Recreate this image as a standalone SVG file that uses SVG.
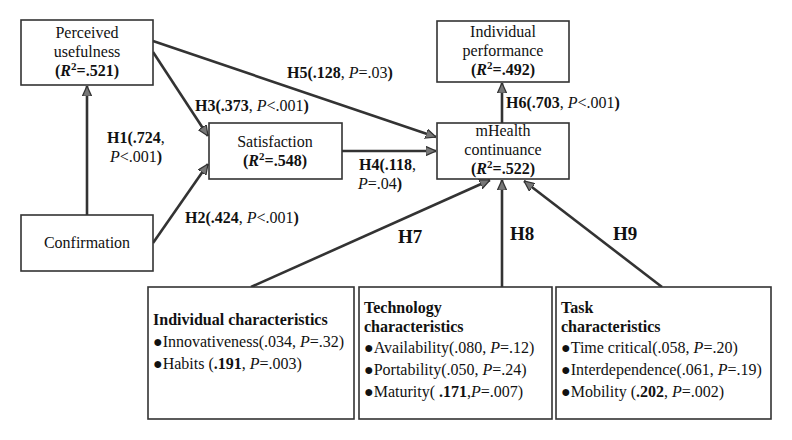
<svg xmlns="http://www.w3.org/2000/svg" width="792" height="440" viewBox="0 0 792 440">
<style>
text{font-family:"Liberation Serif","Times New Roman",serif;font-size:16px;fill:#111}
.c{text-anchor:middle}
.b{font-weight:bold}
.i{font-style:italic}
.bi{font-style:italic;font-weight:bold}
.box{fill:#fff;stroke:#333;stroke-width:1.6}
.ln{stroke:#333;stroke-width:2.6;fill:none;marker-end:url(#ah)}
.big{font-size:19px;font-weight:bold}
</style>
<defs>
<marker id="ah" viewBox="0 0 10 10" refX="10" refY="5" markerWidth="4" markerHeight="4" orient="auto" markerUnits="strokeWidth">
<path d="M0,0.5 L10,5 L0,9.5 Z" fill="#777" stroke="#333" stroke-width="1.2"/>
</marker>
</defs>
<rect width="792" height="440" fill="#fff"/>
<g id="connectors">
<line class="ln" x1="87" y1="215" x2="87" y2="86"/>
<line class="ln" x1="153" y1="52" x2="208" y2="136"/>
<line class="ln" x1="153" y1="41" x2="436" y2="137"/>
<line class="ln" x1="153" y1="243" x2="208" y2="164"/>
<line class="ln" x1="342" y1="151" x2="436" y2="151"/>
<line class="ln" x1="502" y1="123" x2="502" y2="83"/>
<line class="ln" x1="251" y1="287" x2="490" y2="180"/>
<line class="ln" x1="502" y1="287" x2="502" y2="180"/>
<line class="ln" x1="662" y1="287" x2="524" y2="181"/>
<text x="287" y="78"><tspan class="b">H5(.128</tspan>, <tspan class="i">P</tspan>=.03<tspan class="b">)</tspan></text>
<text x="195" y="111"><tspan class="b">H3(.373</tspan>, <tspan class="i">P</tspan>&lt;.001<tspan class="b">)</tspan></text>
<text x="107" y="143"><tspan class="b">H1(.724</tspan>,</text>
<text x="110" y="162"><tspan class="i">P</tspan>&lt;.001<tspan class="b">)</tspan></text>
<text x="185" y="223"><tspan class="b">H2(.424</tspan>, <tspan class="i">P</tspan>&lt;.001<tspan class="b">)</tspan></text>
<text x="359" y="170"><tspan class="b">H4(.118</tspan>,</text>
<text x="358" y="189"><tspan class="i">P</tspan>=.04<tspan class="b">)</tspan></text>
<text x="506" y="108"><tspan class="b">H6(.703</tspan>, <tspan class="i">P</tspan>&lt;.001<tspan class="b">)</tspan></text>
<text class="big" x="398" y="243">H7</text>
<text class="big" x="510" y="240">H8</text>
<text class="big" x="613" y="240">H9</text>
</g>
<g id="perceived-usefulness">
<rect class="box" x="21" y="20" width="132" height="65"/>
<text class="c" x="87" y="38">Perceived</text>
<text class="c" x="87" y="57">usefulness</text>
<text class="c b" x="87" y="76">(<tspan class="bi">R</tspan><tspan font-size="11" dy="-6">2</tspan><tspan dy="6">=.521)</tspan></text>
</g>
<g id="satisfaction">
<rect class="box" x="209" y="123" width="133" height="56"/>
<text class="c" x="275" y="147">Satisfaction</text>
<text class="c b" x="275" y="166">(<tspan class="bi">R</tspan><tspan font-size="11" dy="-6">2</tspan><tspan dy="6">=.548)</tspan></text>
</g>
<g id="confirmation">
<rect class="box" x="21" y="215" width="132" height="56"/>
<text class="c" x="87" y="248">Confirmation</text>
</g>
<g id="individual-performance">
<rect class="box" x="437" y="21" width="132" height="61"/>
<text class="c" x="503" y="37">Individual</text>
<text class="c" x="503" y="56">performance</text>
<text class="c b" x="503" y="75">(<tspan class="bi">R</tspan><tspan font-size="11" dy="-6">2</tspan><tspan dy="6">=.492)</tspan></text>
</g>
<g id="mhealth-continuance">
<rect class="box" x="437" y="123" width="132" height="56"/>
<text class="c" x="503" y="136">mHealth</text>
<text class="c" x="503" y="155">continuance</text>
<text class="c b" x="503" y="174">(<tspan class="bi">R</tspan><tspan font-size="11" dy="-6">2</tspan><tspan dy="6">=.522)</tspan></text>
</g>
<g id="individual-characteristics">
<rect class="box" x="148" y="287" width="206" height="132"/>
<text class="b" x="153" y="325">Individual characteristics</text>
<text x="153" y="347">●Innovativeness(.034, <tspan class="i">P</tspan>=.32)</text>
<text x="153" y="369">●Habits (<tspan class="b">.191</tspan>, <tspan class="i">P</tspan>=.003)</text>
</g>
<g id="technology-characteristics">
<rect class="box" x="359" y="287" width="193" height="132"/>
<text class="b" x="364" y="313">Technology</text>
<text class="b" x="364" y="332">characteristics</text>
<text x="364" y="353">●Availability(.080, <tspan class="i">P</tspan>=.12)</text>
<text x="364" y="375">●Portability(.050, <tspan class="i">P</tspan>=.24)</text>
<text x="364" y="397">●Maturity( <tspan class="b">.171</tspan>,<tspan class="i">P</tspan>=.007)</text>
</g>
<g id="task-characteristics">
<rect class="box" x="556" y="287" width="215" height="132"/>
<text class="b" x="561" y="313">Task</text>
<text class="b" x="561" y="332">characteristics</text>
<text x="561" y="353">●Time critical(.058, <tspan class="i">P</tspan>=.20)</text>
<text x="561" y="375">●Interdependence(.061, <tspan class="i">P</tspan>=.19)</text>
<text x="561" y="397">●Mobility (<tspan class="b">.202</tspan>, <tspan class="i">P</tspan>=.002)</text>
</g>
</svg>
